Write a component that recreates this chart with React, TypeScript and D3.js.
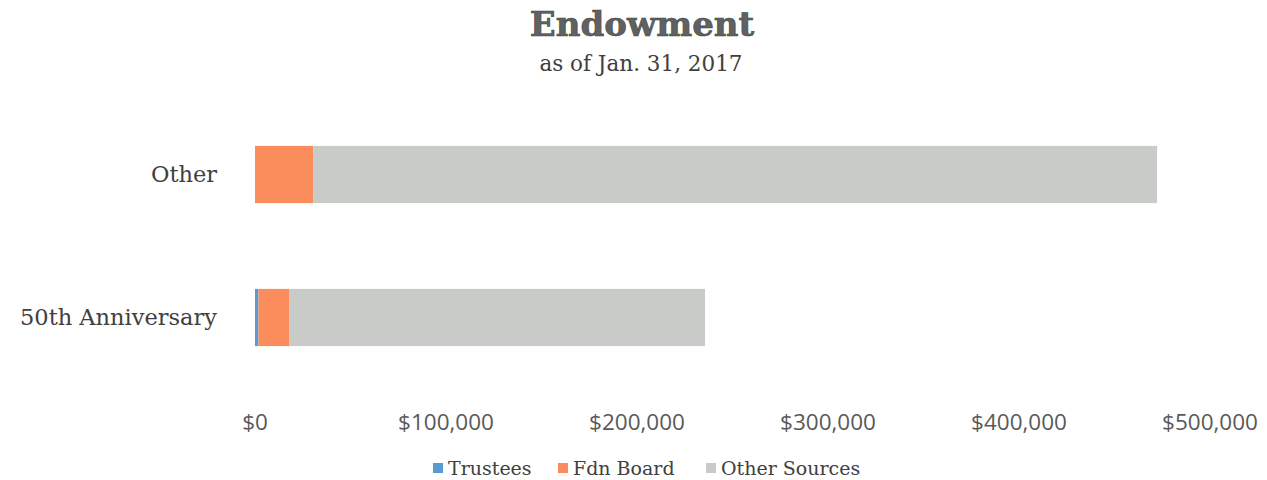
import React from "react";
import * as d3 from "d3";

const categories = ["Other", "50th Anniversary"];
const seriesNames = ["Trustees", "Fdn Board", "Other Sources"];
const trustees = [0, 1800];
const fdnBoard = [30500, 16000];
const otherSources = [441800, 217800];
const tickValues = [0, 100000, 200000, 300000, 400000, 500000];
const colors = ["#5b9bd5", "#fa8d5b", "#c9cbc9"];

const W = 1267;
const H = 480;
const slab = "'DejaVu Serif', serif";
const sans = "'Open Sans', 'Liberation Sans', sans-serif";

export default function App() {
  const x = d3.scaleLinear().domain([0, 500000]).range([255, 1210]);
  const y = d3.scaleBand().domain(categories).range([103, 389]).paddingInner(0.6).paddingOuter(0.3);
  const rows = categories.map((c, i) => ({ cat: c, Trustees: trustees[i], "Fdn Board": fdnBoard[i], "Other Sources": otherSources[i] }));
  const stacked = d3.stack<any>().keys(seriesNames)(rows);
  const fmt = (v: number) => "$" + d3.format(",")(v);
  const legendX = [433, 558, 706];

  return (
    <svg width={W} height={H} style={{ position: "absolute", left: 0, top: 0, background: "#fff" }}>
      <text x={642} y={36} textAnchor="middle" fontFamily={slab} fontWeight="bold" fontSize={34} fill="#5f6262" stroke="#3f4242" strokeWidth={0.6}>
        Endowment
      </text>
      <text x={641} y={71} textAnchor="middle" fontFamily={slab} fontSize={21.5} fill="#404040">
        as of Jan. 31, 2017
      </text>
      {stacked.map((s, si) =>
        s.map((d, i) => (
          <rect key={si + "-" + i} x={x(d[0])} y={y(categories[i])} width={Math.max(0, x(d[1]) - x(d[0]))} height={y.bandwidth()} fill={colors[si]} />
        ))
      )}
      {categories.map((c) => (
        <text key={c} x={217} y={(y(c) as number) + y.bandwidth() / 2} dy="0.35em" textAnchor="end" fontFamily={slab} fontSize={22.5} fill="#404040">
          {c}
        </text>
      ))}
      {tickValues.map((t) => (
        <text key={t} x={x(t)} y={430} textAnchor="middle" fontFamily={sans} fontSize={22.5} fill="#595959">
          {fmt(t)}
        </text>
      ))}
      {seriesNames.map((n, i) => (
        <g key={n}>
          <rect x={legendX[i]} y={463} width={10} height={10} fill={colors[i]} />
          <text x={legendX[i] + 15} y={468} dy="0.35em" fontFamily={slab} fontSize={19} fill="#404040">
            {n}
          </text>
        </g>
      ))}
    </svg>
  );
}
